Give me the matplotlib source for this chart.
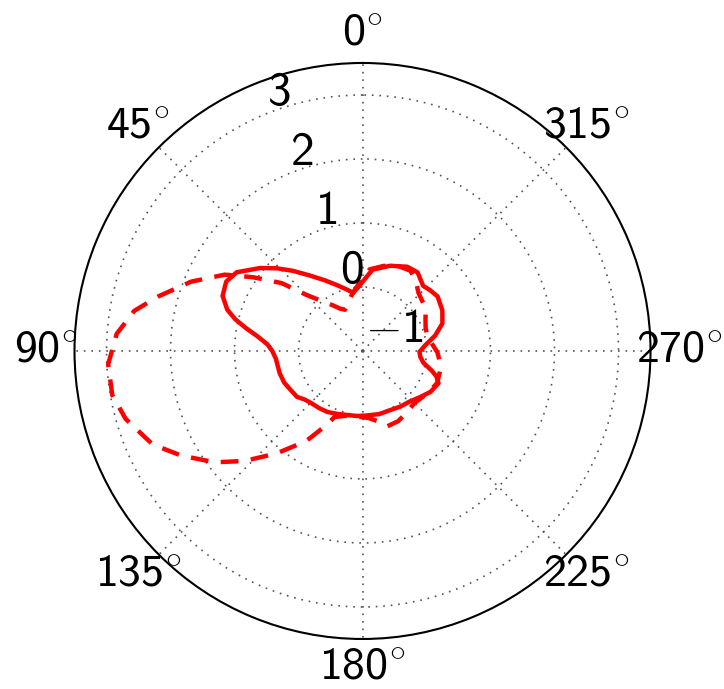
import numpy as np
import matplotlib
matplotlib.use("Agg")
import matplotlib.pyplot as plt
from matplotlib.transforms import ScaledTranslation

plt.rcParams['mathtext.fontset'] = 'cm'
plt.rcParams['font.family'] = ['cmss10', 'DejaVu Sans']
plt.rcParams['axes.unicode_minus'] = False

# ---- data (angles in degrees, radial values) ----
solid_theta = [4, 9, 15, 21, 28, 35, 41, 46, 51, 58, 63, 68.5, 73, 76, 79, 82, 86, 90, 95,
               105, 112, 118, 125, 130, 136, 143, 150, 158, 166, 175, 184, 195, 205, 214,
               223, 231, 239, 247, 251, 254, 259, 264, 269, 275, 282, 289, 297, 306, 312,
               317, 325, 332, 342, 353, 360, 364]
solid_r = [0.0, -0.08, 0.0, 0.10, 0.25, 0.44, 0.66, 0.86, 1.06, 1.32, 1.39, 1.35, 1.21, 1.05,
           0.85, 0.66, 0.49, 0.41, 0.36, 0.34, 0.32, 0.28, 0.25, 0.18, 0.14, 0.12, 0.10, 0.06,
           0.03, 0.02, 0.01, 0.02, 0.02, 0.05, 0.08, 0.15, 0.24, 0.29, 0.22, 0.13, -0.03,
           -0.09, -0.11, -0.02, 0.16, 0.32, 0.40, 0.45, 0.42, 0.39, 0.50, 0.49, 0.40, 0.28,
           0.08, 0.0]

dashed_theta = [2, 9, 16, 23, 28, 33, 39, 45, 50, 56, 61, 68, 75, 80, 86, 93, 100, 106, 114,
                120, 127, 133, 140, 148, 154, 157, 165, 175, 185, 192, 198, 207, 212, 225,
                238, 247, 256, 261, 269, 276, 283, 290, 296, 304, 316, 322, 329, 338, 346,
                355, 362]
dashed_r = [0.08, -0.07, -0.20, -0.30, -0.25, -0.15, 0.0, 0.24, 0.65, 1.06, 1.46, 1.89, 2.30,
            2.62, 2.85, 2.98, 2.97, 2.85, 2.59, 2.27, 1.89, 1.52, 1.09, 0.66, 0.29, 0.12,
            0.05, 0.03, 0.05, 0.12, 0.24, 0.23, 0.20, 0.15, 0.22, 0.27, 0.25, 0.23, 0.17,
            0.09, 0.04, 0.05, 0.095, 0.19, 0.26, 0.36, 0.46, 0.44, 0.37, 0.28, 0.08]

r_ticks = [-1, 0, 1, 2, 3]
r_tick_labels = [r'$-$1', '0', '1', '2', '3']
theta_ticks = [0, 45, 90, 135, 180, 225, 270, 315]
theta_tick_labels = [r'0$^{\circ}$', r'45$^{\circ}$', r'90$^{\circ}$', r'135$^{\circ}$',
                     r'180$^{\circ}$', r'225$^{\circ}$', r'270$^{\circ}$', r'315$^{\circ}$']
r_min, r_max = -1, 3.5

# ---- figure ----
fig = plt.figure(figsize=(7.24, 6.89), dpi=100)
ax = fig.add_axes([0.1029, 0.0726, 0.7956, 0.836], projection='polar')
ax.set_theta_zero_location('N')
ax.set_theta_direction(1)

ax.plot(np.deg2rad(dashed_theta), dashed_r, color='#ff0000', lw=3.2,
        linestyle=(0, (4.0, 2.8)), zorder=3)
ax.plot(np.deg2rad(solid_theta), solid_r, color='#ff0000', lw=3.2, zorder=4)

ax.set_ylim(r_min, r_max)
ax.set_rorigin(r_min)
ax.set_yticks(r_ticks)
ax.set_yticklabels([])
ax.set_xticks(np.deg2rad(theta_ticks))
ax.set_xticklabels([])
ax.grid(True, color='#555555', linestyle=(0, (1, 3.5)), lw=1.2)
ax.spines['polar'].set_linewidth(1.5)
ax.spines['polar'].set_color('black')

fs = 34
r_off = ax.transData + ScaledTranslation(0.02, 0.09, fig.dpi_scale_trans)
for r, lab in zip(r_ticks, r_tick_labels):
    ax.text(np.deg2rad(22.5), r, lab, ha='left', va='baseline', fontsize=fs,
            color='black', zorder=5, transform=r_off)

fs_t = 33
r_lab = r_min + 1.1 * (r_max - r_min)
for t, lab in zip(theta_ticks, theta_tick_labels):
    ax.text(np.deg2rad(t), r_lab, lab, ha='center', va='center', fontsize=fs_t,
            color='black', clip_on=False)

fig.savefig('out.png', dpi=100)
